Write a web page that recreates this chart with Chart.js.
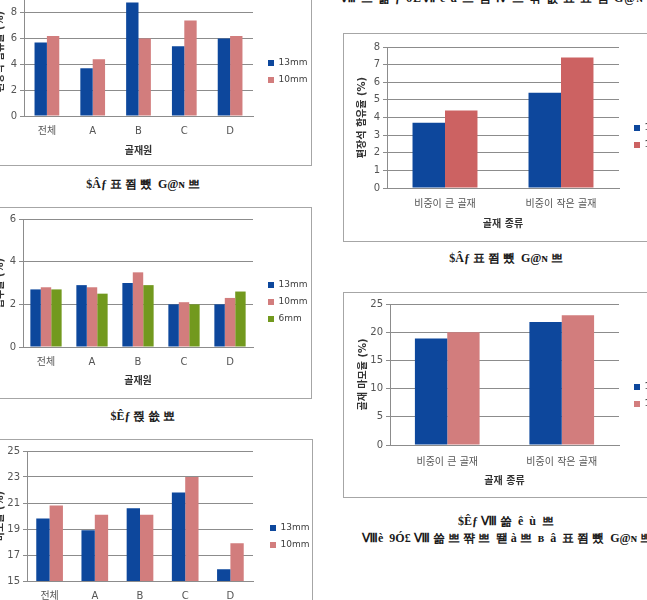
<!DOCTYPE html>
<html>
<head>
<meta charset="utf-8">
<script src="https://cdn.jsdelivr.net/npm/chart.js@4.4.0/dist/chart.umd.min.js"></script>
<style>
  body { margin: 0; width: 647px; height: 600px; overflow: hidden; background: #fff; position: relative; }
  .frame { position: absolute; border: 1px solid #a6a6a6; background: #fff; }
  .frame canvas { display: block; }
  .cap { position: absolute; font-family: "Liberation Serif", serif; font-weight: bold; font-size: 12px;
         white-space: nowrap; color: #1a1a1a; line-height: 14px; }
  .mid { transform: translateX(-50%); }
</style>
</head>
<body>

<div class="cap" style="left:340px;top:-9px;letter-spacing:1px">Ⅷ 쁘 쓺 ƒ 6ÊⅦ  ê  ù 쁘    쬠 Ⅳ 쁘 쨖 쑚 뾰 표 쬠 G@ɴ  Ⅳ 쁘 ê</div>

<div class="frame" style="left:-9px;top:-30px"><canvas id="c1" width="319" height="194"></canvas></div>
<div class="cap mid" style="left:143px;top:177px">$Âƒ 표 쬠 뺐&nbsp; G@ɴ 쁘</div>

<div class="frame" style="left:-9px;top:207px"><canvas id="c2" width="319" height="190"></canvas></div>
<div class="cap mid" style="left:143px;top:409px">$Êƒ 쯵 쑚 뾰</div>

<div class="frame" style="left:-9px;top:439px"><canvas id="c3" width="320" height="200"></canvas></div>

<div class="frame" style="left:343px;top:33px"><canvas id="c4" width="315" height="207"></canvas></div>
<div class="cap mid" style="left:506px;top:251px">$Âƒ 표 쬠 뺐&nbsp; G@ɴ 쁘</div>

<div class="frame" style="left:343px;top:292px"><canvas id="c5" width="315" height="204"></canvas></div>
<div class="cap mid" style="left:506px;top:514px">$Êƒ Ⅷ 쓺&nbsp; ê&nbsp; ù&nbsp; 쁘</div>
<div class="cap" style="left:362px;top:531px">Ⅷè&nbsp; 9Ó£ Ⅷ 쓺 쁘 쨖 쁘&nbsp; 뙏 à 쁘&nbsp; в&nbsp; â&nbsp; 표 쬠 뺐&nbsp; G@ɴ 쁘 Ⅳ&nbsp; ê&nbsp; ù</div>

<script>
// 골재원별 값
const sources = ['전체', 'A', 'B', 'C', 'D'];
const kinds = ['비중이 큰 골재', '비중이 작은 골재'];

const flaky13 = [5.7, 3.7, 8.8, 5.4, 6.0];
const flaky10 = [6.2, 4.4, 6.0, 7.4, 6.2];

const absorb13 = [2.7, 2.9, 3.0, 2.0, 2.0];
const absorb10 = [2.8, 2.8, 3.5, 2.1, 2.3];
const absorb6 = [2.7, 2.5, 2.9, 2.0, 2.6];

const wear13 = [19.8, 18.9, 20.6, 21.8, 15.9];
const wear10 = [20.8, 20.1, 20.1, 23.0, 17.9];

// 골재 종류별 값
const kindFlaky13 = [3.7, 5.4];
const kindFlaky10 = [4.4, 7.4];
const kindWear13 = [18.9, 21.8];
const kindWear10 = [20.0, 23.0];

const BLUE = '#0d479c', PINK = '#d27d7d', RED = '#cc6262', GREEN = '#72991e';
const FONT = '"DejaVu Sans", "Noto Sans CJK KR", sans-serif';
const GRID = '#8c8c8c';

// 범례 위치를 엑셀 그림처럼 고정
const fixBoxes = {
  id: 'fixBoxes',
  beforeLayout(chart, args, opts) {
    const lg = chart.legend;
    if (lg && !lg._wrapped) {
      const fit = lg.fit.bind(lg);
      lg.fit = function () { fit(); this.width = opts.legendWidth; };
      lg._wrapped = true;
    }
  },
  afterLayout(chart, args, opts) {
    const lg = chart.legend;
    const pad = chart.options.plugins.legend.labels.padding;
    lg.left = opts.legendX - pad;
    lg.right = lg.left + opts.legendWidth;
    lg.top = opts.legendY - 4.5 - pad;
  }
};

function draw(id, labels, sets, s) {
  new Chart(document.getElementById(id), {
    type: 'bar',
    data: {
      labels: labels,
      datasets: sets.map(d => ({
        label: d[0], data: d[1], backgroundColor: d[2],
        categoryPercentage: s.cat, barPercentage: 1
      }))
    },
    options: {
      responsive: false,
      animation: false,
      layout: { padding: { top: s.top, left: 0, right: 0, bottom: 0 } },
      plugins: {
        legend: {
          position: 'right', align: 'start',
          labels: { boxWidth: 6, boxHeight: 6, padding: 8, color: '#404040', font: { family: FONT, size: 9 } }
        },
        tooltip: { enabled: false },
        fixBoxes: { legendWidth: s.lw, legendX: s.lx, legendY: s.ly }
      },
      scales: {
        x: {
          grid: { display: false, drawTicks: false },
          border: { color: GRID },
          ticks: { color: '#555', padding: s.tp, font: { family: FONT, size: 10 } },
          title: { display: true, text: s.xt, color: '#333', font: { family: FONT, size: 10, weight: 'bold' },
                   padding: { top: 0, bottom: s.xtp } },
          afterFit(sc) { sc.height = s.xh; }
        },
        y: {
          min: s.min, max: s.max,
          ticks: { stepSize: s.step, color: '#555', padding: 3, font: { family: FONT, size: 10 } },
          grid: { color: GRID, tickLength: 4 },
          border: { color: GRID },
          title: { display: true, text: s.yt, color: '#333', font: { family: FONT, size: 10, weight: 'bold' },
                   padding: { top: s.ytp, bottom: 0 } },
          afterFit(sc) { sc.width = s.yw; }
        }
      }
    },
    plugins: [fixBoxes]
  });
}

draw('c1', sources, [['13mm', flaky13, BLUE], ['10mm', flaky10, PINK]], {
  min: 0, max: 10, step: 2, yt: '편장석 함유율 (%)', xt: '골재원', cat: 0.54,
  top: 16, yw: 32, xh: 49, tp: 9, xtp: 8, ytp: 2, lw: 58, lx: 276, ly: 92
});

draw('c2', sources, [['13mm', absorb13, BLUE], ['10mm', absorb10, PINK], ['6mm', absorb6, GREEN]], {
  min: 0, max: 6, step: 2, yt: '흡수율 (%)', xt: '골재원', cat: 0.68,
  top: 11, yw: 31, xh: 51, tp: 9, xtp: 11, ytp: 2, lw: 58, lx: 276, ly: 77
});

draw('c3', sources, [['13mm', wear13, BLUE], ['10mm', wear10, PINK]], {
  min: 15, max: 25, step: 2, yt: '마모율 (%)', xt: '골재원', cat: 0.59,
  top: 11, yw: 35, xh: 59, tp: 9, xtp: 12, ytp: 2, lw: 59, lx: 278, ly: 88
});

draw('c4', kinds, [['13mm', kindFlaky13, BLUE], ['10mm', kindFlaky10, RED]], {
  min: 0, max: 8, step: 1, yt: '편장석 함유율 (%)', xt: '골재 종류', cat: 0.56,
  top: 13, yw: 43, xh: 53, tp: 10, xtp: 11, ytp: 12, lw: 40, lx: 290, ly: 94
});

draw('c5', kinds, [['13mm', kindWear13, BLUE], ['10mm', kindWear10, PINK]], {
  min: 0, max: 25, step: 5, yt: '골재 마모율 (%)', xt: '골재 종류', cat: 0.565,
  top: 11, yw: 46, xh: 52, tp: 11, xtp: 10, ytp: 13, lw: 40, lx: 290, ly: 94
});
</script>
</body>
</html>
